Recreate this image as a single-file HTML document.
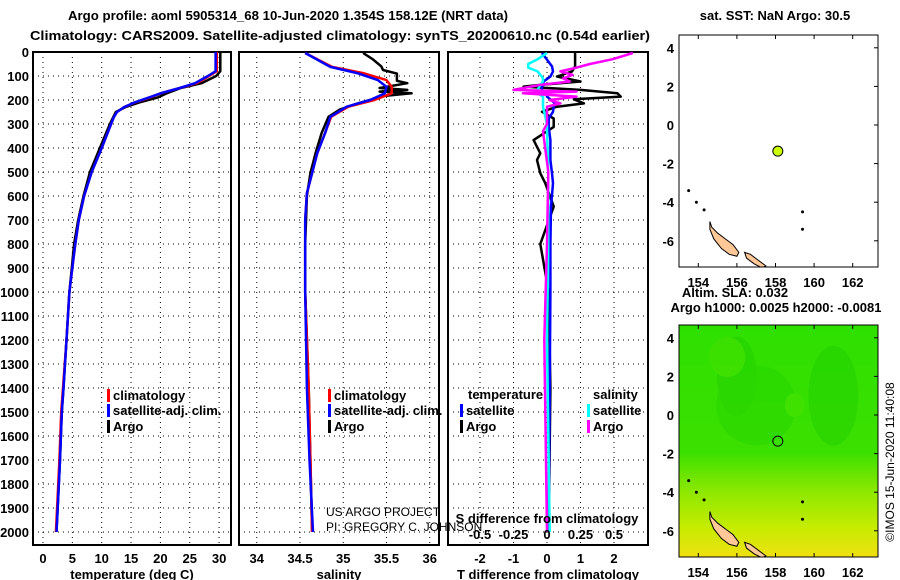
<!DOCTYPE html>
<html><head><meta charset="utf-8"><style>
body{margin:0;background:#fff;}
svg{display:block;font-family:"Liberation Sans",sans-serif;}
.t{font-weight:bold;font-size:13px;}
</style></head><body>
<svg id="c" width="900" height="580" viewBox="0 0 900 580">
<defs>
<linearGradient id="slag" x1="0" y1="0" x2="0" y2="1">
<stop offset="0" stop-color="#2ee000"/><stop offset="0.55" stop-color="#3ce000"/><stop offset="0.72" stop-color="#8ee800"/><stop offset="0.88" stop-color="#c8ec00"/><stop offset="1" stop-color="#f0e010"/>
</linearGradient>
<clipPath id="mc1"><rect x="679" y="35" width="199" height="232"/></clipPath>
<clipPath id="mc2"><rect x="679" y="325" width="199" height="232"/></clipPath>
</defs>
<text x="68" y="20" textLength="440" lengthAdjust="spacingAndGlyphs" class="t" font-size="14">Argo profile: aoml 5905314_68 10-Jun-2020 1.354S 158.12E (NRT data)</text>
<text x="30" y="40" textLength="620" lengthAdjust="spacingAndGlyphs" class="t" font-size="14">Climatology: CARS2009. Satellite-adjusted climatology: synTS_20200610.nc (0.54d earlier)</text>
<text x="775" y="20" text-anchor="middle" class="t">sat. SST: NaN Argo: 30.5</text>
<text x="735" y="297" text-anchor="middle" class="t">Altim. SLA: 0.032</text>
<text x="776" y="312" text-anchor="middle" class="t">Argo h1000: 0.0025 h2000: -0.0081</text>
<text transform="translate(894,462) rotate(-90)" text-anchor="middle" font-size="12">©IMOS 15-Jun-2020 11:40:08</text>
<g id="g"></g>
</svg>
<script>
const depthT=[0,80,100,130,150,170,190,210,230,250,270,300,400,500,600,700,800,900,1000,1200,1400,1500,1700,1900,2000];
const tempClim=[29.6,29.6,28.3,26.2,23.3,20.3,18.2,15.7,13.8,12.6,12.1,11.6,10,8.3,7.0,6.1,5.5,5.0,4.5,4.0,3.4,3.1,2.8,2.4,2.2];
const tempSat=[29.4,29.4,28.1,25.9,23.3,20.3,18.0,15.6,13.8,12.6,12.1,11.6,10,8.3,7.0,6.1,5.5,5.0,4.5,4.0,3.5,3.2,2.9,2.5,2.3];
const tempArgo=[30.2,30.2,29.5,27.0,23.5,21.3,19.5,16.4,14.0,12.4,12.0,11.4,9.7,8.0,6.9,6.0,5.3,4.9,4.5,4.0,3.5,3.2,2.9,2.5,2.3];
const depthS=[4,62,88,117,145,172,200,228,270,338,421,505,588,700,1000,1400,1700,2000];
const salClim=[34.56,34.87,35.23,35.5,35.56,35.56,35.36,35.06,34.86,34.79,34.7,34.64,34.58,34.56,34.56,34.6,34.62,34.64];
const salSat=[34.56,34.85,35.16,35.4,35.5,35.48,35.31,35.04,34.85,34.79,34.7,34.64,34.58,34.56,34.56,34.58,34.61,34.65];
const depthSA=[4,30,60,75,90,120,130,150,158,165,172,185,200,215,240,270,338,421,505,600,800,1000,1400,2000];
const salArgo=[35.23,35.34,35.44,35.46,35.62,35.62,35.74,35.42,35.74,35.42,35.79,35.42,35.31,35.16,34.96,34.83,34.75,34.68,34.62,34.58,34.56,34.56,34.6,34.64];
const depthDT=[4,60,81,102,123,137,144,158,172,186,197,214,228,249,277,312,367,422,450,505,547,644,800,1000,1400,2000];
const dTArgo=[0.84,0.84,0.75,0.3,1.0,-0.2,-0.7,1.0,2.1,2.2,0.8,1.1,0.3,-0.15,0.2,0.2,-0.4,-0.2,-0.3,-0.2,-0.05,0.2,-0.2,0.05,0.1,0.05];
const dTSat=[-0.15,0.15,0.18,0.1,-0.1,-0.12,-0.15,-0.15,0.0,0.0,0.1,0.24,0.2,0.18,0.05,0.05,0.1,0.1,0.1,0.15,0.18,0.12,0.1,0.1,0.08,0.05];
const depthDS=[4,30,50,65,81,95,110,123,137,158,165,172,186,200,214,228,300,330,500,800,1200,2000];
const dSSat=[0,-0.07,-0.14,-0.14,-0.07,-0.05,-0.03,-0.03,-0.05,-0.07,-0.07,-0.07,-0.03,-0.03,-0.03,-0.03,0,0,0.01,0.01,0.0,0.02];
const dSArgo=[0.64,0.49,0.32,0.22,0.1,0.19,0.12,0.17,-0.05,-0.25,0.22,-0.18,0.22,0.02,0.1,0.0,0.0,-0.03,0.01,0.0,-0.02,0.0];
const depthTicks=[0,100,200,300,400,500,600,700,800,900,1000,1100,1200,1300,1400,1500,1600,1700,1800,1900,2000];
const tempTicks=[0,5,10,15,20,25,30];
const salTicks=[34,34.5,35,35.5,36];
const dTTicks=[-2,-1,0,1,2];
const dSTicks=[-0.5,-0.25,0,0.25,0.5];
const lonTicks=[154,156,158,160,162];
const latTicks=[4,2,0,-2,-4,-6];
const floatLon=158.12, floatLat=-1.354;

const NS='http://www.w3.org/2000/svg';
const G=document.getElementById('g');
function mk(t,a,p){const e=document.createElementNS(NS,t);for(const k in a)e.setAttribute(k,a[k]);(p||G).appendChild(e);return e;}
const yD=d=>52+d*0.24;
const xT=v=>43+v*5.87;
const xS=v=>300+(v-34.5)*86.5;
const xDT=v=>547+v*33.5;
const xDS=v=>547+v*134;
const mx=l=>679+(l-153)*19.3;
const my1=l=>125-l*19.3;
const my2=l=>415-l*19.3;

function panel(name,x0,x1,ticks,fx,labFmt,xlabel,showY){
  const b=mk('rect',{x:x0,y:52,width:x1-x0,height:493,fill:'none',stroke:'#000','stroke-width':2});
  
  depthTicks.forEach(d=>{
    if(d>0){const l=mk('line',{x1:x0,x2:x1,y1:yD(d),y2:yD(d),stroke:'#000','stroke-dasharray':'1 4'});}
    if(showY){const t=mk('text',{x:x0-4,y:yD(d)+5,'text-anchor':'end',class:'t'});t.textContent=d;}
  });
  ticks.forEach(v=>{
    const l=mk('line',{x1:fx(v),x2:fx(v),y1:52,y2:545,stroke:'#000','stroke-dasharray':'1 4'});
    const t=mk('text',{x:fx(v),y:563,'text-anchor':'middle',class:'t'});t.textContent=labFmt(v);
  });
  const xl=mk('text',{x:(x0+x1)/2,y:579,'text-anchor':'middle',class:'t'});xl.textContent=xlabel;
}
function line(xs,ds,fx,col,name){
  const p=xs.map((v,i)=>fx(v).toFixed(1)+','+yD(ds[i]).toFixed(1)).join(' ');
  const e=mk('polyline',{points:p,fill:'none',stroke:col,'stroke-width':2.5,'stroke-linejoin':'round'});
  
  
}
function legItem(x,y,col,txt,name){
  const r=mk('rect',{x:x,y:y-11,width:3,height:13,fill:col});
  const t=mk('text',{x:x+6,y:y,class:'t'});t.textContent=txt;
}
panel('temperature-panel',33,231,tempTicks,xT,v=>v,'temperature (deg C)',true);
panel('salinity-panel',239,439,salTicks,xS,v=>v,'salinity',false);
panel('difference-panel',448,648,dTTicks,xDT,v=>v,'T difference from climatology',false);

line(tempArgo,depthT,xT,'#000','temp-argo-line');
line(tempClim,depthT,xT,'#f00','temp-clim-line');
line(tempSat,depthT,xT,'#00f','temp-sat-line');
line(salArgo,depthSA,xS,'#000','sal-argo-line');
line(salClim,depthS,xS,'#f00','sal-clim-line');
line(salSat,depthS,xS,'#00f','sal-sat-line');
line(dTArgo,depthDT,xDT,'#000','dt-argo-line');
line(dTSat,depthDT,xDT,'#00f','dt-sat-line');
line(dSSat,depthDS,xDS,'#0ff','ds-sat-line');
line(dSArgo,depthDS,xDS,'#f0f','ds-argo-line');

dSTicks.forEach(v=>{const t=mk('text',{x:xDS(v),y:539,'text-anchor':'middle',class:'t'});t.textContent=v;});
{const t=mk('text',{x:547,y:523,'text-anchor':'middle',class:'t'});t.textContent='S difference from climatology';}

legItem(107,400,'#f00','climatology','temp-legend-clim');
legItem(107,415,'#00f','satellite-adj. clim.','temp-legend-sat');
legItem(107,431,'#000','Argo','temp-legend-argo');
legItem(328,400,'#f00','climatology','sal-legend-clim');
legItem(328,415,'#00f','satellite-adj. clim.','sal-legend-sat');
legItem(328,431,'#000','Argo','sal-legend-argo');
{const t=mk('text',{x:468,y:399,class:'t'});t.textContent='temperature';}
{const t=mk('text',{x:593,y:399,class:'t'});t.textContent='salinity';}
legItem(460,415,'#00f','satellite','diff-legend-t-sat');
legItem(460,431,'#000','Argo','diff-legend-t-argo');
legItem(587,415,'#0ff','satellite','diff-legend-s-sat');
legItem(587,431,'#f0f','Argo','diff-legend-s-argo');
{const t=mk('text',{x:326,y:516,'font-size':12});t.textContent='US ARGO PROJECT';}
{const t=mk('text',{x:326,y:531,'font-size':12});t.textContent='PI: GREGORY C. JOHNSON';}

function islands(my,clip,name){
  const g=mk('g',{'clip-path':'url(#'+clip+')'});
  const isl=[[[154.6,-5.0],[154.7,-5.3],[155.0,-5.6],[155.4,-5.9],[155.8,-6.2],[156.1,-6.6],[156.0,-6.8],[155.6,-6.7],[155.2,-6.4],[154.8,-5.9],[154.6,-5.4]],
             [[156.4,-6.6],[156.7,-6.7],[157.1,-7.0],[157.5,-7.3],[157.3,-7.4],[156.9,-7.2],[156.5,-6.9]]];
  isl.forEach(pl=>{const e=mk('polygon',{points:pl.map(p=>mx(p[0])+','+my(p[1])).join(' '),fill:'#ffc896',stroke:'#000','stroke-width':1},g);});
  [[153.9,-4.0],[154.3,-4.4],[153.5,-3.4],[152.9,-4.4],[159.4,-5.4],[159.4,-4.5]].forEach(p=>{const e=mk('circle',{cx:mx(p[0]),cy:my(p[1]),r:1.5,fill:'#000'},g);});
}
function mapFrame(my,top,name){
  const b=mk('rect',{x:679,y:top,width:199,height:232,fill:'none',stroke:'#000','stroke-width':1});
  lonTicks.forEach(l=>{mk('line',{x1:mx(l),x2:mx(l),y1:top,y2:top+4,stroke:'#000'});mk('line',{x1:mx(l),x2:mx(l),y1:top+232,y2:top+228,stroke:'#000'});
    const t=mk('text',{x:mx(l),y:top+252,'text-anchor':'middle',class:'t'});t.textContent=l;});
  latTicks.forEach(l=>{mk('line',{x1:874,x2:878,y1:my(l),y2:my(l),stroke:'#000'});
    const t=mk('text',{x:674,y:my(l)+5,'text-anchor':'end',class:'t'});t.textContent=l;});
}
islands(my1,'mc1','sst-map');
mapFrame(my1,35,'sst-map');
{const c=mk('circle',{cx:mx(floatLon),cy:my1(floatLat),r:5,fill:'#ccff00',stroke:'#000'});}
{const r=mk('rect',{x:679,y:325,width:199,height:232,fill:'url(#slag)'});}
{const g=mk('g',{'clip-path':'url(#mc2)',opacity:0.35});
 [[157,0.5,40,40,'#1fd000'],[156,2,20,40,'#18c800'],[161,1,25,50,'#18c800'],[159,0.5,10,12,'#50e400'],[155.5,3,18,20,'#50e000']].forEach(p=>{const e=mk('ellipse',{cx:mx(p[0]),cy:my2(p[1]),rx:p[2],ry:p[3],fill:p[4]},g);});}
islands(my2,'mc2','sla-map');
mapFrame(my2,325,'sla-map');
{const c=mk('circle',{cx:mx(floatLon),cy:my2(floatLat),r:5,fill:'none',stroke:'#000'});}
</script>
</body></html>
